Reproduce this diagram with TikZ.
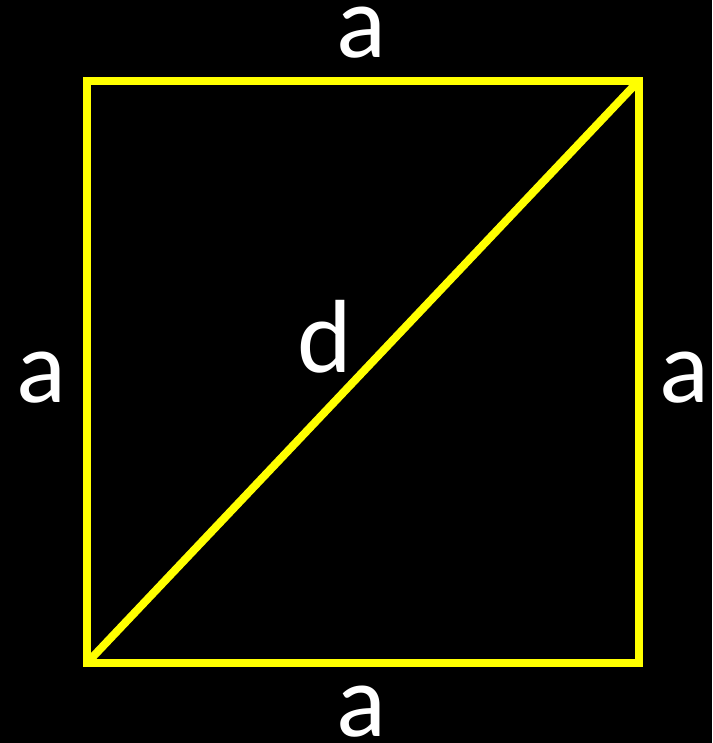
\documentclass[tikz,border=0pt]{standalone}
\usepackage{fontspec}
\setmainfont{Carlito}
\usetikzlibrary{positioning,calc}
\definecolor{edge}{HTML}{FFFF00}
\tikzset{
  % siden i kvadratet og diagonalen
  side/.style={draw=edge, line width=8pt},
  % bogstav ved en side
  lbl/.style={text=white, anchor=base, inner sep=0pt,
    font=\fontsize{104}{120}\selectfont},
}

\begin{document}
\begin{tikzpicture}[x=1pt,y=1pt]
\fill[black] (0,0) rectangle (712,743);
\useasboundingbox (0,0) rectangle (712,743);

% ----- hjoerner -----
\coordinate (bl) at (87,80);
\coordinate (tr) at (638.5,662);

% ----- kvadrat og diagonal -----
\draw[side] (bl) rectangle (tr);
\draw[side] (bl) -- (tr);

% ----- betegnelser -----
\node[lbl] (top) at (361,685) {a};
\node[lbl] (bottom) at (361,6) {a};
\node[lbl] (left) at (41,340) {a};
\node[lbl] (right) at (684.5,340) {a};
\node[lbl] (diag) at (325,370) {d};

\end{tikzpicture}
\end{document}
